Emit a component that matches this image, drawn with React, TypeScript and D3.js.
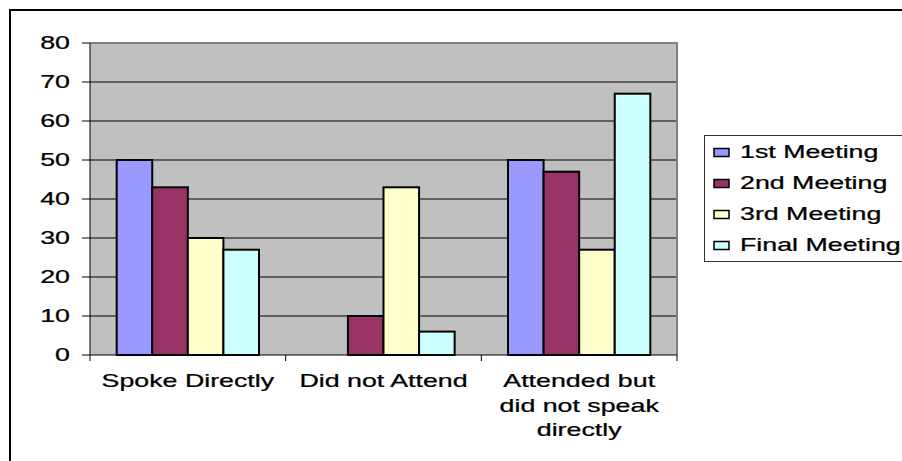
import React from "react";
import * as d3 from "d3";

const categories: string[][] = [
  ["Spoke Directly"],
  ["Did not Attend"],
  ["Attended but", "did not speak", "directly"],
];
const categoryKeys = ["spoke", "absent", "silent"];
const seriesNames = ["1st Meeting", "2nd Meeting", "3rd Meeting", "Final Meeting"];
const firstMeeting = [50, 0, 50];
const secondMeeting = [43, 10, 47];
const thirdMeeting = [30, 43, 27];
const finalMeeting = [27, 6, 67];
const seriesValues = [firstMeeting, secondMeeting, thirdMeeting, finalMeeting];
const seriesColors = ["#9999FF", "#993366", "#FFFFCC", "#CCFFFF"];
const yTicks = [0, 10, 20, 30, 40, 50, 60, 70, 80];

const W = 902;
const H = 461;
const plot = { left: 90, right: 677, top: 43, bottom: 355 };
const FONT = "'Liberation Sans', Arial, sans-serif";
const SX = 1.53;

function WideText(props: {
  x: number;
  y: number;
  anchor?: "start" | "middle" | "end";
  children: React.ReactNode;
}) {
  return (
    <g transform={`translate(${props.x},${props.y}) scale(${SX},1)`}>
      <text
        x={0}
        y={0}
        textAnchor={props.anchor || "start"}
        fontFamily={FONT}
        fontSize={17.5}
        fill="#000"
        stroke="#000"
        strokeWidth={0.25}
      >
        {props.children}
      </text>
    </g>
  );
}

export default function App() {
  const x0 = d3
    .scaleBand<string>()
    .domain(categoryKeys)
    .range([plot.left, plot.right])
    .paddingInner(0.6 / 2.2)
    .paddingOuter(0.3 / 2.2);
  const x1 = d3
    .scaleBand<string>()
    .domain(seriesNames)
    .range([0, x0.bandwidth()])
    .padding(0);
  const y = d3.scaleLinear().domain([0, 80]).range([plot.bottom, plot.top]);
  const step = x0.step();
  const boundaries = d3.range(categoryKeys.length + 1).map((i) => plot.left + i * step);

  return (
    <svg
      width={W}
      height={H}
      style={{ position: "absolute", left: 0, top: 0, background: "#fff" }}
    >
      {/* chart frame */}
      <rect x={10} y={10} width={W + 20} height={H + 20} fill="#fff" stroke="#000" strokeWidth={2} />

      {/* plot area */}
      <rect
        x={plot.left}
        y={plot.top}
        width={plot.right - plot.left}
        height={plot.bottom - plot.top}
        fill="#C0C0C0"
      />
      {yTicks.slice(1).map((t) => (
        <line
          key={`g${t}`}
          x1={plot.left}
          x2={plot.right}
          y1={y(t)}
          y2={y(t)}
          stroke={t === 80 ? "#808080" : "#000"}
          strokeWidth={t === 80 ? 2 : 1}
        />
      ))}
      <line x1={plot.right} x2={plot.right} y1={plot.top - 1} y2={plot.bottom} stroke="#808080" strokeWidth={2} />

      {/* bars */}
      {categoryKeys.map((c, ci) => (
        <g key={c} transform={`translate(${x0(c)},0)`}>
          {seriesNames.map((s, si) => {
            const v = seriesValues[si][ci];
            if (v <= 0) return null;
            return (
              <rect
                key={s}
                x={x1(s)}
                y={y(v)}
                width={x1.bandwidth()}
                height={y(0) - y(v)}
                fill={seriesColors[si]}
                stroke="#000"
                strokeWidth={2}
              />
            );
          })}
        </g>
      ))}

      {/* axes */}
      <line x1={plot.left} x2={plot.left} y1={plot.top} y2={plot.bottom} stroke="#000" strokeWidth={1} />
      <line x1={plot.left} x2={plot.right} y1={plot.bottom} y2={plot.bottom} stroke="#000" strokeWidth={1} />
      {yTicks.map((t) => (
        <g key={`t${t}`}>
          <line x1={plot.left - 8} x2={plot.left} y1={y(t)} y2={y(t)} stroke="#000" />
          <WideText x={70} y={y(t) + 6} anchor="end">
            {t}
          </WideText>
        </g>
      ))}
      {boundaries.map((bx, i) => (
        <line key={`b${i}`} x1={bx} x2={bx} y1={plot.bottom} y2={plot.bottom + 6} stroke="#000" />
      ))}
      {categoryKeys.map((c, ci) =>
        categories[ci].map((line, li) => (
          <WideText key={`${c}${li}`} x={x0(c)! + x0.bandwidth() / 2} y={387 + li * 24.5} anchor="middle">
            {line}
          </WideText>
        ))
      )}

      {/* legend */}
      <rect x={704.5} y={135.5} width={220} height={126} fill="#fff" stroke="#333" strokeWidth={1} />
      {seriesNames.map((s, si) => (
        <g key={`l${s}`}>
          <rect
            x={714}
            y={148.5 + si * 31}
            width={15}
            height={8}
            fill={seriesColors[si]}
            stroke="#000"
            strokeWidth={1.5}
          />
          <WideText x={740} y={157.5 + si * 31}>
            {s}
          </WideText>
        </g>
      ))}
    </svg>
  );
}
